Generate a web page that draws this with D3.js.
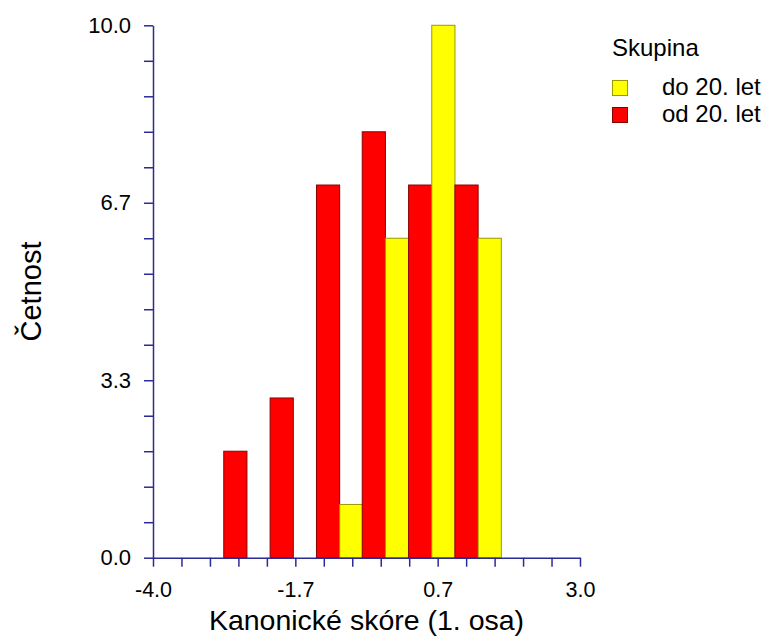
<!DOCTYPE html>
<html>
<head>
<meta charset="utf-8">
<script src="https://cdn.jsdelivr.net/npm/d3@7"></script>
<style>
  html, body { margin: 0; padding: 0; background: #fff; }
  svg { display: block; font-family: "Liberation Sans", Arial, sans-serif; }
</style>
</head>
<body>
<svg id="chart" width="767" height="637"></svg>
<script>
// Histogram of canonical scores, two groups side by side per bin
const binCenters = [-2.46, -1.70, -0.94, -0.19, 0.57, 1.33];
const binWidth = 0.76;
const seriesNames = ["do 20. let", "od 20. let"];
const doValues = [0, 0, 1, 6, 10, 6];   // do 20. let
const odValues = [2, 3, 7, 8, 7, 7];    // od 20. let

const xDomain = [-4.0, 3.0];
const yDomain = [0, 10];
const xTickLabels = ["-4.0", "-1.7", "0.7", "3.0"];
const yTickLabels = ["0.0", "3.3", "6.7", "10.0"];
const minorPerMajor = 5;

const axisColor = "#2b2b95";
const fills = { "do 20. let": "#ffff00", "od 20. let": "#ff0000" };
const strokes = { "do 20. let": "#9a9a00", "od 20. let": "#8a0000" };

const svg = d3.select("#chart");
const x = d3.scaleLinear().domain(xDomain).range([153, 580]);
const y = d3.scaleLinear().domain(yDomain).range([557.7, 25.3]);

// Tick positions: 15 intervals, labels on every fifth
const nInt = (xTickLabels.length - 1) * minorPerMajor;
const xTicks = d3.range(nInt + 1).map(i => xDomain[0] + i * (xDomain[1] - xDomain[0]) / nInt);
const yTicks = d3.range(nInt + 1).map(i => yDomain[0] + i * (yDomain[1] - yDomain[0]) / nInt);

// Bars: od (red) on the left half of each bin, do (yellow) on the right half
const half = binWidth / 2;
const bars = [];
binCenters.forEach((c, i) => {
  bars.push({ name: "od 20. let", x0: c - half, x1: c, v: odValues[i] });
  bars.push({ name: "do 20. let", x0: c, x1: c + half, v: doValues[i] });
});

svg.append("g").selectAll("rect")
  .data(bars.filter(d => d.v > 0))
  .join("rect")
  .attr("x", d => x(d.x0))
  .attr("width", d => x(d.x1) - x(d.x0))
  .attr("y", d => y(d.v))
  .attr("height", d => y(0) - y(d.v))
  .attr("fill", d => fills[d.name])
  .attr("stroke", d => strokes[d.name])
  .attr("stroke-width", 1);

// X axis
const xAxis = d3.axisBottom(x)
  .tickValues(xTicks)
  .tickSize(9)
  .tickSizeOuter(0)
  .tickFormat((d, i) => i % minorPerMajor === 0 ? xTickLabels[i / minorPerMajor] : "");
const gx = svg.append("g").attr("transform", `translate(0,${y(0)})`).call(xAxis);
gx.select(".domain").attr("stroke", axisColor).attr("stroke-width", 1.5);
gx.selectAll(".tick line").attr("stroke", axisColor).attr("stroke-width", 1.5);
gx.selectAll(".tick text").attr("fill", "#000").attr("font-size", 21.5)
  .attr("font-family", "Liberation Sans, Arial, sans-serif").attr("dy", 0).attr("y", 39.5);

// Y axis
const yAxis = d3.axisLeft(y)
  .tickValues(yTicks)
  .tickSize(9)
  .tickSizeOuter(0)
  .tickFormat((d, i) => i % minorPerMajor === 0 ? yTickLabels[i / minorPerMajor] : "");
const gy = svg.append("g").attr("transform", `translate(${x(xDomain[0])},0)`).call(yAxis);
gy.select(".domain").attr("stroke", axisColor).attr("stroke-width", 1.5);
gy.selectAll(".tick line").attr("stroke", axisColor).attr("stroke-width", 1.5);
gy.selectAll(".tick text").attr("fill", "#000").attr("font-size", 22)
  .attr("font-family", "Liberation Sans, Arial, sans-serif").attr("x", -22);

// Axis titles
svg.append("text")
  .attr("x", (x.range()[0] + x.range()[1]) / 2)
  .attr("y", 630)
  .attr("text-anchor", "middle")
  .attr("font-size", 28.5)
  .text("Kanonické skóre (1. osa)");

svg.append("text")
  .attr("transform", `translate(41,${(y.range()[0] + y.range()[1]) / 2}) rotate(-90)`)
  .attr("text-anchor", "middle")
  .attr("font-size", 29)
  .text("Četnost");

// Legend
const legend = svg.append("g");
legend.append("text").attr("x", 612).attr("y", 55.5).attr("font-size", 24).text("Skupina");
seriesNames.forEach((name, i) => {
  const yy = 80 + i * 27;
  legend.append("rect")
    .attr("x", 612.5).attr("y", yy + 0.5)
    .attr("width", 15).attr("height", 15)
    .attr("fill", fills[name]).attr("stroke", strokes[name]);
  legend.append("text")
    .attr("x", 662).attr("y", yy + 15)
    .attr("font-size", 24)
    .text(name);
});
</script>
</body>
</html>
